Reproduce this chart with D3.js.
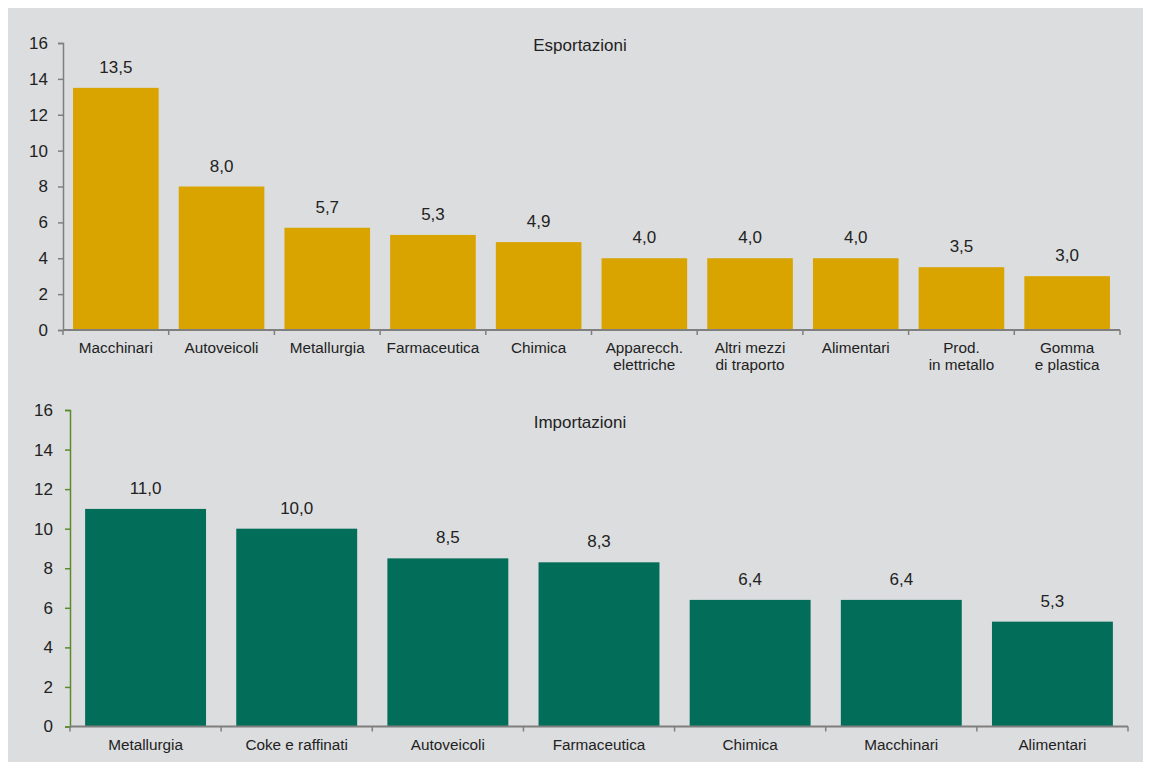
<!DOCTYPE html>
<html>
<head>
<meta charset="utf-8">
<script src="https://cdn.jsdelivr.net/npm/d3@7"></script>
<style>
  html, body { margin: 0; padding: 0; background: #ffffff; }
  svg { display: block; font-family: "Liberation Sans", Arial, sans-serif; }
</style>
</head>
<body>
<svg id="chart" width="1149" height="769"></svg>
<script>
// Esportazioni (top panel)
const exportCategories = ["Macchinari", "Autoveicoli", "Metallurgia", "Farmaceutica", "Chimica",
  "Apparecch.\nelettriche", "Altri mezzi\ndi traporto", "Alimentari", "Prod.\nin metallo", "Gomma\ne plastica"];
const exportValues = [13.5, 8.0, 5.7, 5.3, 4.9, 4.0, 4.0, 4.0, 3.5, 3.0];

// Importazioni (bottom panel)
const importCategories = ["Metallurgia", "Coke e raffinati", "Autoveicoli", "Farmaceutica", "Chimica", "Macchinari", "Alimentari"];
const importValues = [11.0, 10.0, 8.5, 8.3, 6.4, 6.4, 5.3];

const yTicks = [0, 2, 4, 6, 8, 10, 12, 14, 16];

const FONT = "'Liberation Sans', Arial, sans-serif";
const svg = d3.select("#chart");
svg.append("rect").attr("x", 8).attr("y", 8).attr("width", 1135).attr("height", 754).attr("fill", "#dcdddf");

const fmt = v => d3.format(".1f")(v).replace(".", ",");

function panel(opts) {
  const { cats, vals, x0, x1, yTop, yBottom, color, padding, title, titleY, yAxisColor, tickPad } = opts;
  const x = d3.scaleBand().domain(cats).range([x0, x1]).paddingInner(padding).paddingOuter(padding / 2);
  const y = d3.scaleLinear().domain([0, 16]).range([yBottom, yTop]);
  const g = svg.append("g");

  g.selectAll("rect.bar").data(vals).enter().append("rect")
    .attr("class", "bar")
    .attr("x", (d, i) => x(cats[i]))
    .attr("width", x.bandwidth())
    .attr("y", d => y(d))
    .attr("height", d => y(0) - y(d))
    .attr("fill", color);

  g.selectAll("text.val").data(vals).enter().append("text")
    .attr("class", "val")
    .attr("x", (d, i) => x(cats[i]) + x.bandwidth() / 2)
    .attr("y", d => y(d) - 15)
    .attr("text-anchor", "middle")
    .attr("font-size", 17)
    .attr("fill", "#222")
    .text(fmt);

  // y axis
  const ya = g.append("g").attr("transform", `translate(${x0},0)`)
    .call(d3.axisLeft(y).tickValues(yTicks).tickSize(5).tickPadding(tickPad).tickFormat(d3.format("d")));
  ya.attr("font-family", FONT);
  ya.select(".domain").attr("stroke", yAxisColor).attr("stroke-width", 1.5);
  ya.selectAll(".tick line").attr("stroke", yAxisColor).attr("stroke-width", 1.5);
  ya.selectAll(".tick text").attr("font-size", 17).attr("fill", "#222");

  // x axis with ticks at category boundaries
  const xa = g.append("g").attr("transform", `translate(0,${yBottom})`);
  xa.append("line").attr("x1", x0).attr("x2", x1).attr("stroke", "#7f7f7f").attr("stroke-width", 2);
  const bounds = d3.range(cats.length + 1).map(i => x0 + i * (x1 - x0) / cats.length);
  xa.selectAll("line.tk").data(bounds).enter().append("line")
    .attr("class", "tk").attr("x1", d => d).attr("x2", d => d).attr("y1", 0).attr("y2", 5)
    .attr("stroke", "#7f7f7f").attr("stroke-width", 1.5);

  const labels = xa.selectAll("text.cat").data(cats).enter().append("text")
    .attr("class", "cat")
    .attr("x", d => x(d) + x.bandwidth() / 2)
    .attr("y", 23)
    .attr("text-anchor", "middle")
    .attr("font-size", 15.3)
    .attr("fill", "#222");
  labels.each(function(d) {
    const lines = d.split("\n");
    const t = d3.select(this);
    lines.forEach((ln, i) => {
      t.append("tspan").attr("x", x(d) + x.bandwidth() / 2).attr("dy", i === 0 ? 0 : 17).text(ln);
    });
  });

  g.append("text").attr("x", 580).attr("y", titleY).attr("text-anchor", "middle")
    .attr("font-size", 17).attr("fill", "#222").text(title);
}

panel({ cats: exportCategories, vals: exportValues, x0: 63, x1: 1120, yTop: 43, yBottom: 330,
  color: "#d9a300", padding: 0.19, title: "Esportazioni", titleY: 51, yAxisColor: "#7f7f7f", tickPad: 10 });

panel({ cats: importCategories, vals: importValues, x0: 70, x1: 1128, yTop: 410, yBottom: 726.5,
  color: "#026d58", padding: 0.2, title: "Importazioni", titleY: 428, yAxisColor: "#5b8a2a", tickPad: 12 });
</script>
</body>
</html>
